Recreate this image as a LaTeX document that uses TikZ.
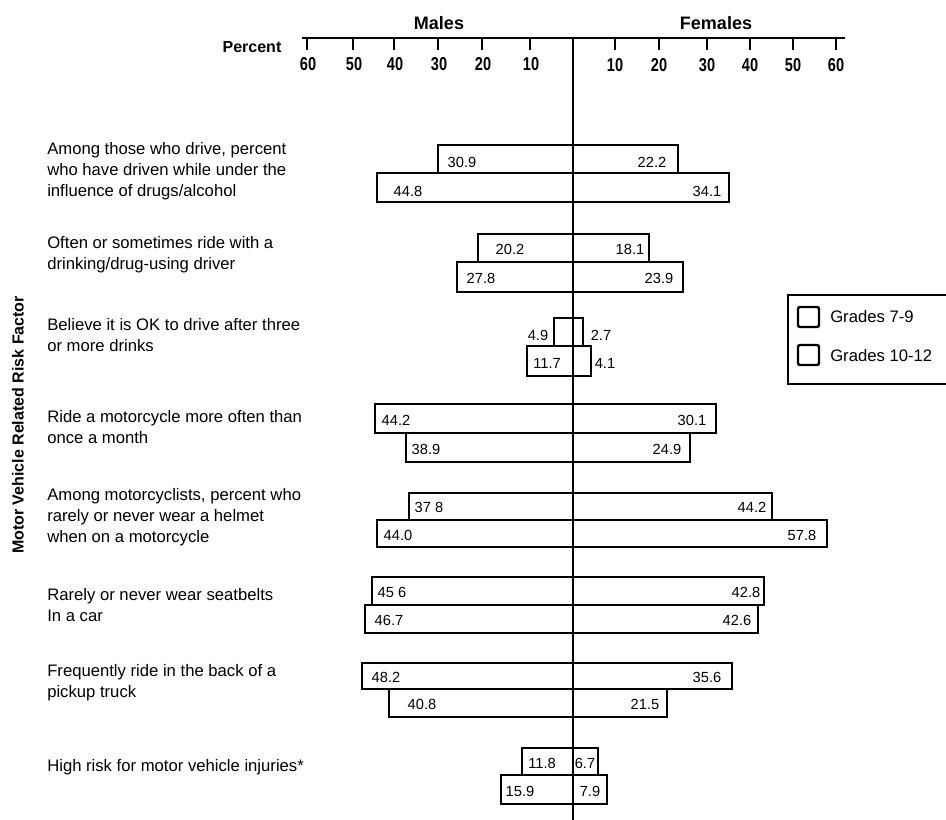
\documentclass[tikz,border=0pt]{standalone}
\usepackage{fontspec}
\setmainfont{Liberation Sans}
\newfontfamily\narrowfont[FakeStretch=0.78]{Liberation Sans}
\begin{document}
\begin{tikzpicture}[x=0.75pt,y=-0.75pt,
  bar/.style={draw, line width=1.5pt, fill=white},
  num/.style={font=\fontsize{11}{12}\selectfont, inner sep=0pt},
  lab/.style={anchor=west, align=left, font=\fontsize{12.5}{15.75}\selectfont, inner sep=0pt},
  ticklab/.style={font=\narrowfont\bfseries\fontsize{14}{16}\selectfont, inner sep=0pt},
  head/.style={font=\bfseries\fontsize{13.5}{16}\selectfont, inner sep=0pt},
  axisline/.style={line width=1.6pt},
  legbox/.style={draw, line width=1.8pt, rounded corners=1.5pt}]
\useasboundingbox (0,0) rectangle (946,820);

% header
\node[head] (males) at (439,23) {Males};
\node[head] (females) at (716,23) {Females};
\node[font=\bfseries\fontsize{12}{14}\selectfont, inner sep=0pt] (percent) at (252,47) {Percent};
\draw[axisline] (302,38) -- (845,38);
\foreach \v/\x in {60/307,50/353,40/394,30/438,20/482,10/530}{
  \draw[line width=1.3pt] (\x,38) -- (\x,50);
  \node[ticklab] (m\v) at (\x+1,64) {\v};
}
\foreach \v/\x in {10/615,20/659,30/707,40/750,50/793,60/836}{
  \draw[line width=1.3pt] (\x,38) -- (\x,50);
  \node[ticklab] (f\v) at (\x,65) {\v};
}

% y-axis title
\node[rotate=90, font=\bfseries\fontsize{12}{14}\selectfont, inner sep=0pt] (ytitle) at (18,425) {Motor Vehicle Related Risk Factor};

% category labels
\node[lab] (c1) at (47,171) {Among those who drive, percent\\who have driven while under the\\influence of drugs/alcohol};
\node[lab] (c2) at (47,255) {Often or sometimes ride with a\\drinking/drug-using driver};
\node[lab] (c3) at (47,335) {Believe it is OK to drive after three\\or more drinks};
\node[lab] (c4) at (47,427) {Ride a motorcycle more often than\\once a month};
\node[lab] (c5) at (47,517) {Among motorcyclists, percent who\\rarely or never wear a helmet\\when on a motorcycle};
\node[lab] (c6) at (47,605) {Rarely or never wear seatbelts\\In a car};
\node[lab] (c7) at (47,683) {Frequently ride in the back of a\\pickup truck};
\node[lab] (c8) at (47,767) {High risk for motor vehicle injuries*};

% bars (grades 7-9 on top, grades 10-12 below)
\foreach \xl/\yt/\xr/\yb in {
  437.7/145/678/173, 377/173/729/202,
  478/234/649/262, 457/262/683/292,
  554/318/583/346, 527/346/591/376,
  375/404/716/433, 406/433/690/462,
  409/493/772/520, 377/520/827/547,
  372/577/764/605, 365/605/758/633,
  362/663/732/689, 389/689/667/717,
  522/748/598/775, 501/775/607/804}{
  \draw[bar] (\xl,\yt) rectangle (\xr,\yb);
}

% value labels
\node[num] (v1a) at (462,162) {30.9};
\node[num] (v1b) at (652,162) {22.2};
\node[num] (v1c) at (408,191) {44.8};
\node[num] (v1d) at (707,191) {34.1};
\node[num] (v2a) at (510,249) {20.2};
\node[num] (v2b) at (630,249) {18.1};
\node[num] (v2c) at (481,278) {27.8};
\node[num] (v2d) at (659,278) {23.9};
\node[num] (v3a) at (538,335) {4.9};
\node[num] (v3b) at (601,335) {2.7};
\node[num] (v3c) at (547,363) {11.7};
\node[num] (v3d) at (605,363) {4.1};
\node[num] (v4a) at (396,420) {44.2};
\node[num] (v4b) at (692,420) {30.1};
\node[num] (v4c) at (426,449) {38.9};
\node[num] (v4d) at (667,449) {24.9};
\node[num] (v5a) at (429,507) {37 8};
\node[num] (v5b) at (752,507) {44.2};
\node[num] (v5c) at (398,535) {44.0};
\node[num] (v5d) at (802,535) {57.8};
\node[num] (v6a) at (392,592) {45 6};
\node[num] (v6b) at (746,592) {42.8};
\node[num] (v6c) at (389,620) {46.7};
\node[num] (v6d) at (737,620) {42.6};
\node[num] (v7a) at (386,677) {48.2};
\node[num] (v7b) at (707,677) {35.6};
\node[num] (v7c) at (422,704) {40.8};
\node[num] (v7d) at (645,704) {21.5};
\node[num] (v8a) at (542,763) {11.8};
\node[num] (v8b) at (585,763) {6.7};
\node[num] (v8c) at (520,791) {15.9};
\node[num] (v8d) at (590,791) {7.9};

% centre axis
\draw[line width=2pt] (573,38) -- (573,820);

% legend
\draw[line width=1.6pt] (950,295) -- (788,295) -- (788,384) -- (950,384);
\draw[legbox] (798,307) rectangle (819,327);
\draw[legbox] (798,345) rectangle (819,365);
\node[lab] (g1) at (830,317) {Grades 7-9};
\node[lab] (g2) at (830,356) {Grades 10-12};
\end{tikzpicture}
\end{document}
